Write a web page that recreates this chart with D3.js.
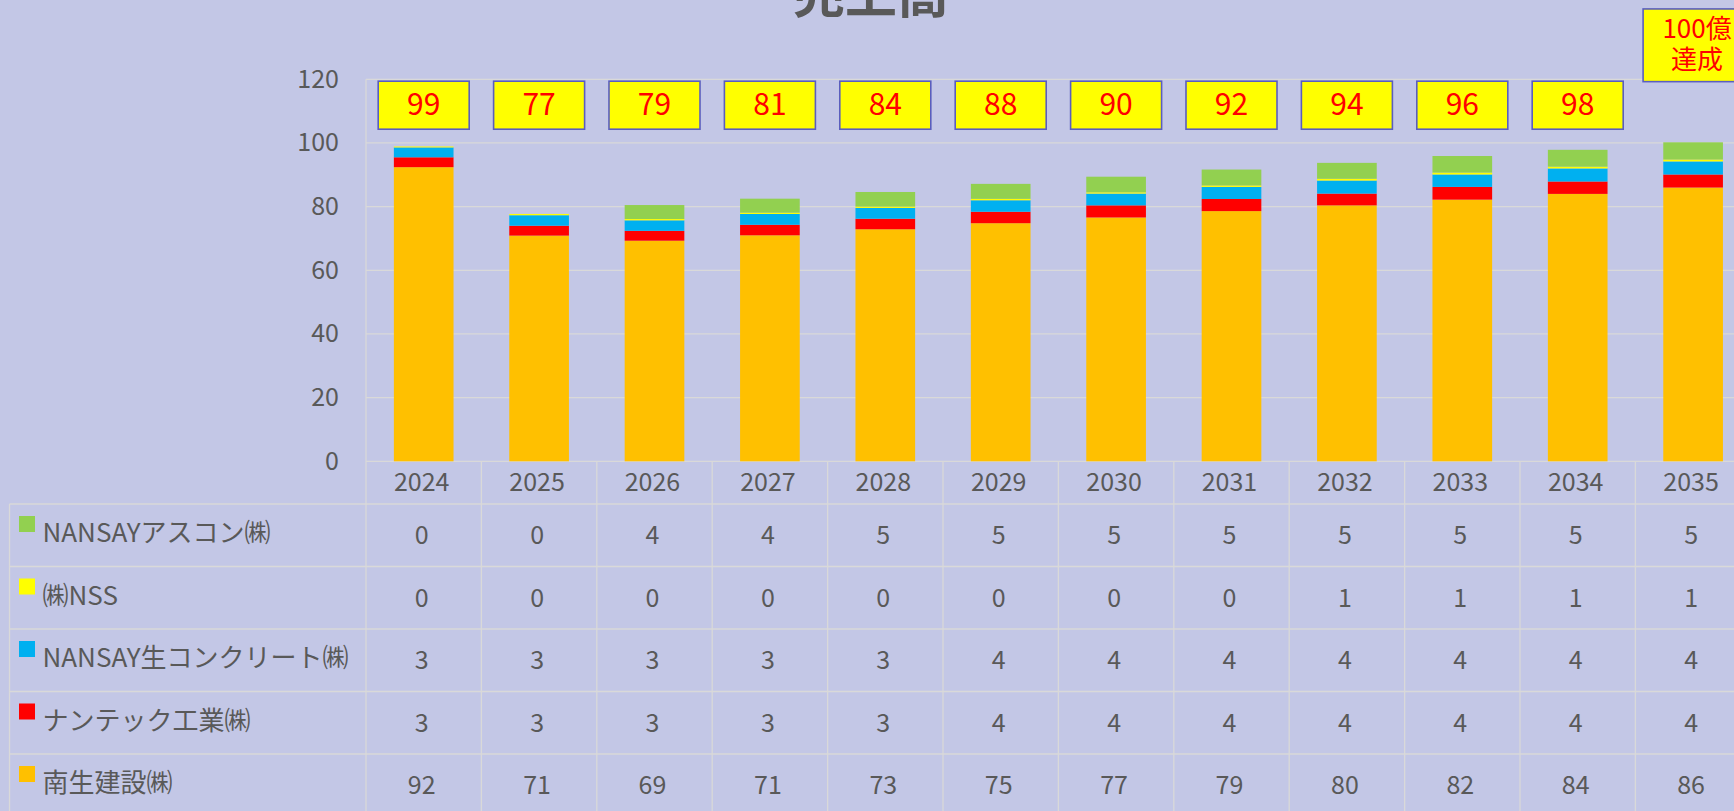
<!DOCTYPE html>
<html>
<head>
<meta charset="utf-8">
<script src="https://cdn.jsdelivr.net/npm/d3@7"></script>
<style>
    body { margin: 0; background: #C3C7E6; }
    svg { display: block; font-family: "Noto Sans CJK JP", "Noto Sans", sans-serif; }
</style>
</head>
<body>
<svg id="chart" width="1734" height="811"></svg>
<script>
// data (bars carry decimals, table shows rounded)
const years = ["2024", "2025", "2026", "2027", "2028", "2029", "2030", "2031", "2032", "2033", "2034", "2035"];
const nansei = [92.4, 70.9, 69.3, 71.0, 72.9, 74.8, 76.6, 78.6, 80.4, 82.2, 84.0, 86.0];
const nantec = [3.1, 3.1, 3.1, 3.3, 3.3, 3.6, 3.8, 3.8, 3.7, 4.0, 3.9, 4.1];
const namacon = [3.1, 3.3, 3.3, 3.4, 3.4, 3.6, 3.7, 3.8, 4.1, 3.9, 4.1, 4.1];
const nss = [0.3, 0.4, 0.4, 0.4, 0.4, 0.45, 0.4, 0.45, 0.55, 0.6, 0.55, 0.6];
const ascon = [0, 0, 4.4, 4.4, 4.6, 4.7, 4.9, 5.0, 5.0, 5.2, 5.3, 5.4];

const seriesNames = ["南生建設㈱", "ナンテック工業㈱", "NANSAY生コンクリート㈱", "㈱NSS", "NANSAYアスコン㈱"];
const seriesColors = ["#FFC000", "#FF0000", "#00B0F0", "#FFFF00", "#92D050"];
const seriesValues = [nansei, nantec, namacon, nss, ascon];

const totalLabels = ["99", "77", "79", "81", "84", "88", "90", "92", "94", "96", "98", "100億\n達成"];
const yTicks = [0, 20, 40, 60, 80, 100, 120];
const title = "売上高";

let svg = d3.select("#chart");
let textColor = "#595959";
let gridColor = "#D9D9D9";

// plot area
let plotLeft = 366, plotTop = 79.3, plotBottom = 461.3;
let step = 115.4;

let x = d3.scaleBand()
    .domain(years)
    .range([plotLeft, plotLeft + step * years.length])
    .padding(0);

let y = d3.scaleLinear()
    .domain([0, 120])
    .range([plotBottom, plotTop]);

let barW = x.bandwidth() * 0.517;

// rows for the stack
let rows = years.map(function (yr, i) {
    let r = {year: yr};
    seriesNames.forEach(function (name, k) {
        r[name] = seriesValues[k][i];
    });
    return r;
});
let stacked = d3.stack().keys(seriesNames)(rows);

// gridlines
svg.append("g")
    .selectAll("line")
    .data(yTicks)
    .enter().append("line")
    .attr("x1", plotLeft)
    .attr("x2", 1734)
    .attr("y1", d => y(d))
    .attr("y2", d => y(d))
    .attr("stroke", gridColor)
    .attr("stroke-width", 1.3);

// y axis labels
let yAxis = d3.axisLeft(y).tickValues(yTicks).tickSize(0).tickPadding(27);
let yg = svg.append("g")
    .attr("transform", "translate(" + plotLeft + ",0)")
    .call(yAxis);
yg.select(".domain").remove();
yg.selectAll("text")
    .attr("fill", textColor)
    .style("font-size", "25px")
    .style("font-family", "\"Noto Sans CJK JP\", sans-serif");

// bars
svg.append("g")
    .selectAll("g")
    .data(stacked)
    .enter().append("g")
    .attr("fill", (d, i) => seriesColors[i])
    .selectAll("rect")
    .data(d => d)
    .enter().append("rect")
    .attr("x", d => x(d.data.year) + (x.bandwidth() - barW) / 2)
    .attr("width", barW)
    .attr("y", d => y(d[1]))
    .attr("height", d => y(d[0]) - y(d[1]));

// total label boxes
let boxW = 91, boxH = 48;
let labelG = svg.append("g");
totalLabels.forEach(function (lab, i) {
    let cx = x(years[i]) + x.bandwidth() / 2;
    let lines = lab.split("\n");
    if (lines.length === 1) {
        labelG.append("rect")
            .attr("x", cx - boxW / 2)
            .attr("y", y(119.4))
            .attr("width", boxW)
            .attr("height", boxH)
            .attr("fill", "#FFFF00")
            .attr("stroke", "#5A5EBE")
            .attr("stroke-width", 1.6);
        labelG.append("text")
            .attr("x", cx)
            .attr("y", y(119.4) + boxH / 2 + 10)
            .attr("text-anchor", "middle")
            .attr("fill", "#FF0000")
            .style("font-size", "30px")
            .text(lab);
    } else {
        // the "100億 達成" note sits higher and is partly cut off
        let bx = cx + 4 - 54;
        let bTop = y(142.1);
        labelG.append("rect")
            .attr("x", bx)
            .attr("y", bTop)
            .attr("width", 108)
            .attr("height", 72.7)
            .attr("fill", "#FFFF00")
            .attr("stroke", "#5A5EBE")
            .attr("stroke-width", 1.6);
        lines.forEach(function (ln, j) {
            labelG.append("text")
                .attr("x", cx + 4)
                .attr("y", bTop + 29 + j * 31)
                .attr("text-anchor", "middle")
                .attr("fill", "#FF0000")
                .style("font-size", "26px")
                .text(ln);
        });
    }
});

// title (mostly above the visible area)
svg.append("text")
    .attr("x", 871)
    .attr("y", 13)
    .attr("text-anchor", "middle")
    .attr("fill", textColor)
    .style("font-size", "52px")
    .style("font-weight", "bold")
    .text(title);

// ---------- data table ----------
let headerBottom = 504;
let rowH = 62.5;
let tableLeft = 9.5;
let tableRows = seriesNames.slice().reverse();
let tableVals = seriesValues.slice().reverse();
let tableCols = seriesColors.slice().reverse();
let tableBottom = headerBottom + rowH * tableRows.length;

let tg = svg.append("g");

// vertical lines: plot left edge and category boundaries
let vx = years.map(d => x(d)).concat([x.range()[1]]);
tg.selectAll("line.v")
    .data(vx)
    .enter().append("line")
    .attr("class", "v")
    .attr("x1", d => d)
    .attr("x2", d => d)
    .attr("y1", (d, i) => i === 0 ? plotTop : plotBottom)
    .attr("y2", tableBottom)
    .attr("stroke", gridColor)
    .attr("stroke-width", 1.3);

// legend column left border
tg.append("line")
    .attr("x1", tableLeft).attr("x2", tableLeft)
    .attr("y1", headerBottom).attr("y2", tableBottom)
    .attr("stroke", gridColor)
    .attr("stroke-width", 1.3);

// horizontal row lines
let hy = d3.range(tableRows.length + 1).map(i => headerBottom + i * rowH);
tg.selectAll("line.h")
    .data(hy)
    .enter().append("line")
    .attr("class", "h")
    .attr("x1", tableLeft)
    .attr("x2", 1734)
    .attr("y1", d => d)
    .attr("y2", d => d)
    .attr("stroke", gridColor)
    .attr("stroke-width", 1.3);

// year header
tg.selectAll("text.year")
    .data(years)
    .enter().append("text")
    .attr("class", "year")
    .attr("x", d => x(d) + x.bandwidth() / 2 - 2)
    .attr("y", (plotBottom + headerBottom) / 2)
    .attr("dy", "0.35em")
    .attr("text-anchor", "middle")
    .attr("fill", textColor)
    .style("font-size", "25px")
    .text(d => d);

// legend keys + names
tableRows.forEach(function (name, r) {
    let ry = headerBottom + r * rowH;
    tg.append("rect")
        .attr("x", 19)
        .attr("y", ry + 12)
        .attr("width", 16)
        .attr("height", 16)
        .attr("fill", tableCols[r]);
    tg.append("text")
        .attr("x", 42.5)
        .attr("y", ry + rowH / 2 - 2)
        .attr("dy", "0.35em")
        .attr("fill", textColor)
        .style("font-size", "26px")
        .text(name);

    tg.selectAll("text.val" + r)
        .data(tableVals[r])
        .enter().append("text")
        .attr("x", (d, i) => x(years[i]) + x.bandwidth() / 2 - 2)
        .attr("y", ry + rowH / 2)
        .attr("dy", "0.35em")
        .attr("text-anchor", "middle")
        .attr("fill", textColor)
        .style("font-size", "25px")
        .text(d => Math.round(d));
});
</script>
</body>
</html>
